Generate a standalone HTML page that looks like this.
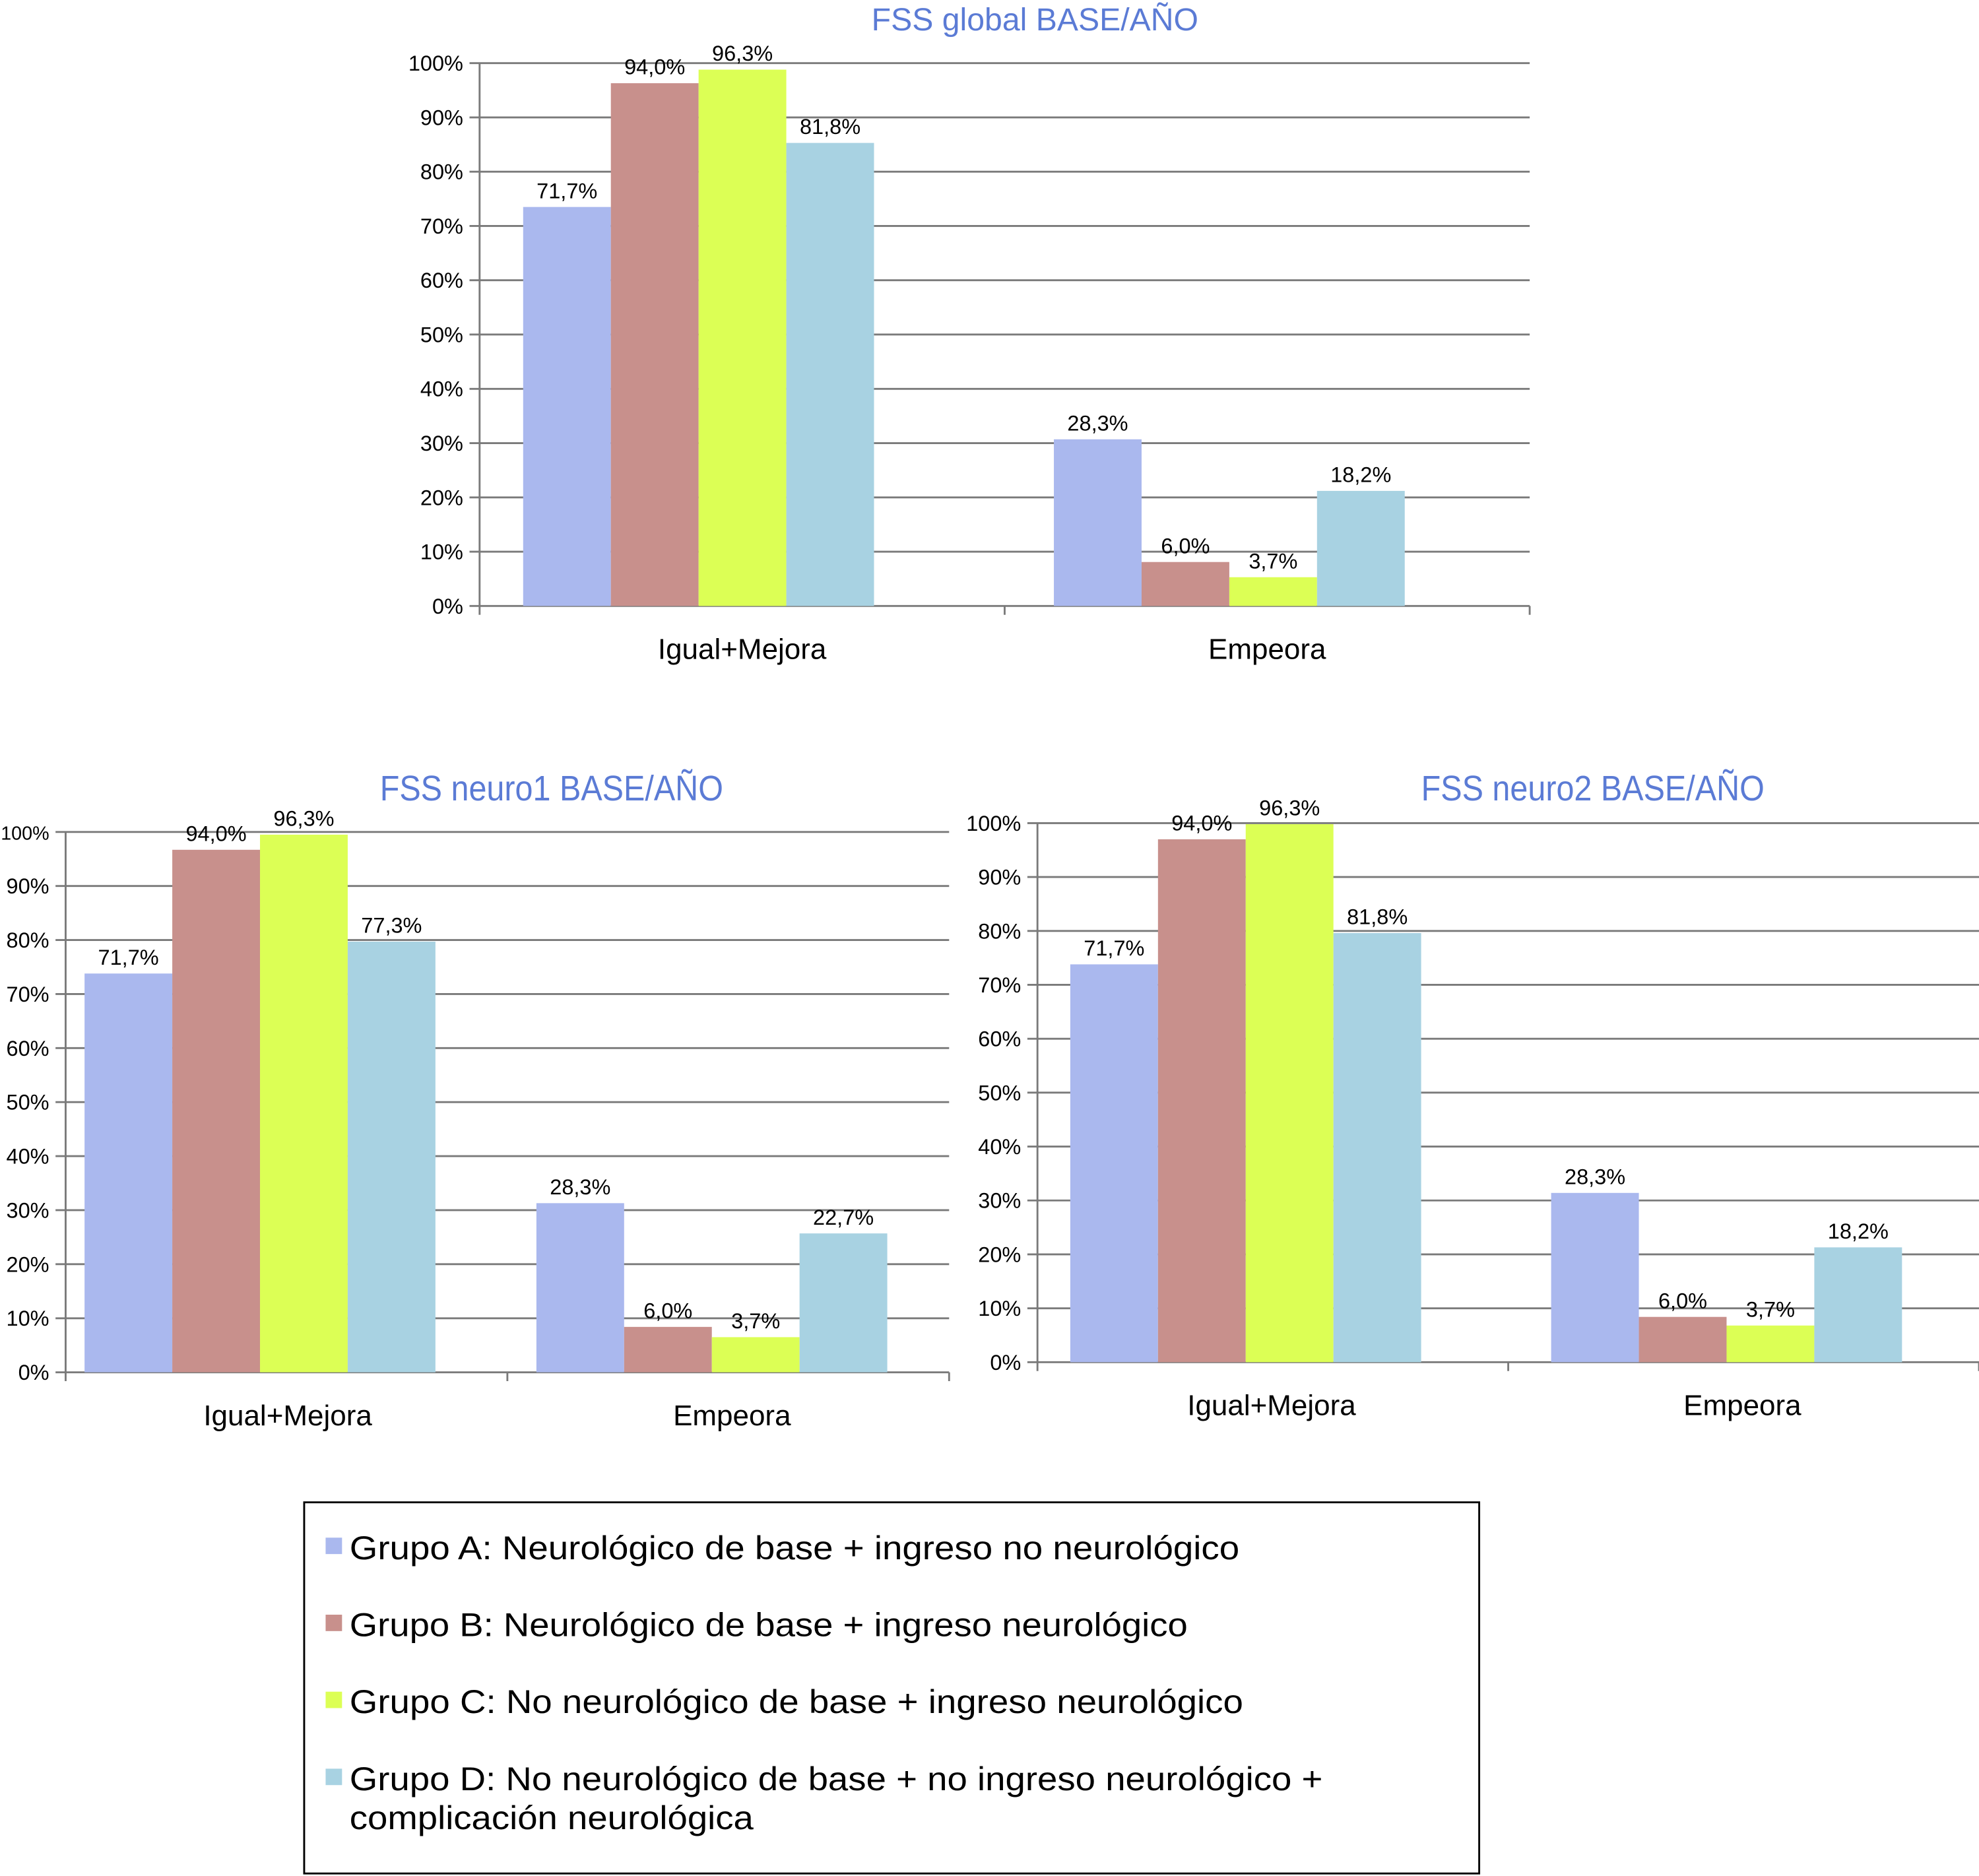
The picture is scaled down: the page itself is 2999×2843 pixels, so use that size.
<!DOCTYPE html>
<html><head><meta charset="utf-8"><style>
html,body{margin:0;padding:0;background:#fff}
svg{display:block;font-family:"Liberation Sans",sans-serif}
</style></head><body>
<svg id="svg" width="2999" height="2843" viewBox="0 0 1568 1486" preserveAspectRatio="none" xmlns="http://www.w3.org/2000/svg">
<g id="legend">
<rect x="241" y="1190" width="931" height="294" fill="#fff" stroke="#000" stroke-width="1.5"/>
<rect x="258" y="1218" width="13" height="13" fill="#aab8ee"/>
<text x="277" y="1235" font-size="26" textLength="705" lengthAdjust="spacingAndGlyphs">Grupo A: Neurológico de base + ingreso no neurológico</text>
<rect x="258" y="1279" width="13" height="13" fill="#c8908c"/>
<text x="277" y="1296" font-size="26" textLength="664" lengthAdjust="spacingAndGlyphs">Grupo B: Neurológico de base + ingreso neurológico</text>
<rect x="258" y="1340" width="13" height="13" fill="#dcff55"/>
<text x="277" y="1357" font-size="26" textLength="708" lengthAdjust="spacingAndGlyphs">Grupo C: No neurológico de base + ingreso neurológico</text>
<rect x="258" y="1401" width="13" height="13" fill="#a8d2e2"/>
<text x="277" y="1418" font-size="26" textLength="771" lengthAdjust="spacingAndGlyphs">Grupo D: No neurológico de base + no ingreso neurológico +</text>
<text x="277" y="1449" font-size="26" textLength="320" lengthAdjust="spacingAndGlyphs">complicación neurológica</text>
</g>
</svg>
<script>
const categories = ["Igual+Mejora", "Empeora"];
const groups = ["A", "B", "C", "D"];
const colors = ["#aab8ee", "#c8908c", "#dcff55", "#a8d2e2"];
const yTicks = ["0%","10%","20%","30%","40%","50%","60%","70%","80%","90%","100%"];
// bar heights (as plotted) and printed labels per chart
const globalValues = [[73.5, 96.3, 98.8, 85.3], [30.7, 8.1, 5.3, 21.2]];
const globalLabels = [["71,7%","94,0%","96,3%","81,8%"], ["28,3%","6,0%","3,7%","18,2%"]];
const neuro1Values = [[73.8, 96.7, 99.5, 79.7], [31.3, 8.4, 6.5, 25.7]];
const neuro1Labels = [["71,7%","94,0%","96,3%","77,3%"], ["28,3%","6,0%","3,7%","22,7%"]];
const neuro2Values = [[73.8, 97.0, 99.8, 79.6], [31.4, 8.4, 6.8, 21.3]];
const neuro2Labels = [["71,7%","94,0%","96,3%","81,8%"], ["28,3%","6,0%","3,7%","18,2%"]];

const NS = "http://www.w3.org/2000/svg";
const svg = document.getElementById('svg');
function mk(tag, attrs, parent, text){
  const e = document.createElementNS(NS, tag);
  for (const k in attrs) e.setAttribute(k, attrs[k]);
  if (text !== undefined) e.textContent = text;
  parent.appendChild(e); return e;
}
function chart(cfg){
  const g = mk('g', {}, svg);
  
  
  const y = v => cfg.y0 - (cfg.y0 - cfg.y100) * v / 100;
  const catW = (cfg.x1 - cfg.x0) / categories.length;
  yTicks.forEach((t, i) => {
    const yy = y(i * 10);
    const ln = mk('line', {x1: cfg.x0 - 8, x2: cfg.x1, y1: yy, y2: yy, stroke: '#7a7a7a', 'stroke-width': 1.5}, g);
    
    
    const tx = mk('text', {x: cfg.x0 - 13, y: yy + 6, 'font-size': (i === 10 && cfg.small100) ? 15 : 17, 'text-anchor': 'end'}, g, t);
    
    
  });
  const ax = mk('line', {x1: cfg.x0, x2: cfg.x0, y1: cfg.y100, y2: cfg.y0, stroke: '#7a7a7a', 'stroke-width': 1.5}, g);
  
  
  for (let c = 0; c <= categories.length; c++) {
    const xx = cfg.x0 + c * catW;
    const tk = mk('line', {x1: xx, x2: xx, y1: cfg.y0, y2: cfg.y0 + 7, stroke: '#7a7a7a', 'stroke-width': 1.5}, g);
    
    
  }
  categories.forEach((cat, c) => {
    const start = cfg.x0 + c * catW + cfg.offsets[c];
    groups.forEach((gr, s) => {
      const v = cfg.values[c][s];
      const bx = start + s * cfg.bw;
      const r = mk('rect', {x: bx, y: y(v), width: cfg.bw, height: cfg.y0 - y(v), fill: colors[s]}, g);
      
      
      const lb = mk('text', {x: bx + cfg.bw / 2, y: y(v) - 7, 'font-size': 17, 'text-anchor': 'middle'}, g, cfg.labels[c][s]);
      
      
    });
    const cl = mk('text', {x: cfg.x0 + c * catW + catW / 2 + cfg.catShift[c], y: cfg.y0 + 42, 'font-size': 23, 'text-anchor': 'middle'}, g, cat);
    
    
  });
  const ti = mk('text', {x: cfg.tx - cfg.tw / 2, y: cfg.ty, 'font-size': cfg.tsize, fill: '#5b7bd5', textLength: cfg.tw, lengthAdjust: 'spacingAndGlyphs'}, g, cfg.title);
  
  
}
chart({name:'chart-fss-global', x0:380, x1:1212, y0:480, y100:50, bw:69.5, offsets:[34.5,39], values:globalValues, labels:globalLabels, title:'FSS global BASE/AÑO', tx:820, ty:24, tsize:25, tw:259, catShift:[0,0], small100:false});
chart({name:'chart-fss-neuro1', x0:52, x1:752, y0:1087, y100:659, bw:69.5, offsets:[15,23], values:neuro1Values, labels:neuro1Labels, title:'FSS neuro1 BASE/AÑO', tx:437, ty:634, tsize:28, tw:272, catShift:[1,3], small100:true});
chart({name:'chart-fss-neuro2', x0:822, x1:1568, y0:1079, y100:652, bw:69.5, offsets:[26,34], values:neuro2Values, labels:neuro2Labels, title:'FSS neuro2 BASE/AÑO', tx:1262, ty:634, tsize:28, tw:272, catShift:[-1,-1], small100:false});
</script>
</body></html>
